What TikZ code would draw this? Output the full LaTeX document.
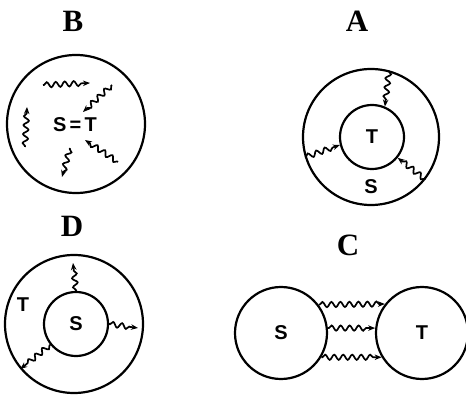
\documentclass[tikz,border=0pt]{standalone}
\usepackage{fontspec}
\setmainfont{Liberation Serif}
\setsansfont{Liberation Sans}
\usetikzlibrary{decorations.pathmorphing,arrows.meta}

\tikzset{
  ring/.style={draw, circle, line width=2.2pt, inner sep=0pt, minimum size=#1},
  panel/.style={font=\fontsize{31}{33}\selectfont\bfseries},
  spin/.style={font=\sffamily\bfseries\fontsize{20}{22}\selectfont},
  wiggle/.style={line width=1.7pt, decorate,
    decoration={snake, amplitude=2.6pt, segment length=9pt, pre length=1pt, post length=5pt}},
  hop/.style={wiggle, -{Stealth[length=7pt,width=5.5pt]}}
}

\begin{document}
\begin{tikzpicture}[x=1pt,y=1pt]
\useasboundingbox (0,0) rectangle (466,394);

% B: one shared bath
\node[panel] (labB) at (73,373) {B};
\node[ring=138pt] (B) at (76,270) {};
\node[spin] (ST) at (75,269) {S\,=\,T};
\foreach \n/\x/\y/\u/\v in {1/43/309/90/311, 2/112/309/83/282, 3/25/247/27/287,
                            4/70/246/62/217, 5/118/232/85/254}{
    \coordinate (Bt\n) at (\x,\y);
    \coordinate (Bh\n) at (\u,\v);
    \draw[hop] (Bt\n) -- (Bh\n);
}

% A: T inside S
\node[panel] (labA) at (357,373) {A};
\node[ring=136pt] (Aout) at (371,257) {};
\node[ring=64pt] (Ain) at (372,257) {};
\node[spin] (AT) at (Ain) {T};
\node[spin] (AS) at (371,207) {S};
\draw[hop] (Aout.75) -- (Ain.67);
\draw[hop] (Aout.197) -- (Ain.194);
\draw[hop] (Aout.322) -- (Ain.321);

% D: S inside T
\node[panel] (labD) at (72,168) {D};
\node[ring=138pt] (Dout) at (74,70) {};
\node[ring=64pt] (Din) at (76,70) {};
\node[spin] (DS) at (Din) {S};
\node[spin] (DT) at (23,89) {T};
\coordinate (Dtop) at (73,131);
\coordinate (Dright) at (138,66);
\draw[hop] (Din.90) -- (Dtop);
\draw[hop] (Din.0) -- (Dright);
\draw[hop] (Din.219) -- (Dout.220);

% C: two separate spheres
\node[panel] (labC) at (348,149) {C};
\node[ring=92pt] (CS) at (281,61) {};
\node[ring=92pt] (CT) at (422,61) {};
\node[spin] (CSl) at (CS) {S};
\node[spin] (CTl) at (CT) {T};
\draw[hop] (CS.37.5) -- (CT.142.5);
\draw[hop] (CS.6) -- (CT.174);
\draw[hop] (CS.-31.5) -- (CT.211.5);

\end{tikzpicture}
\end{document}
